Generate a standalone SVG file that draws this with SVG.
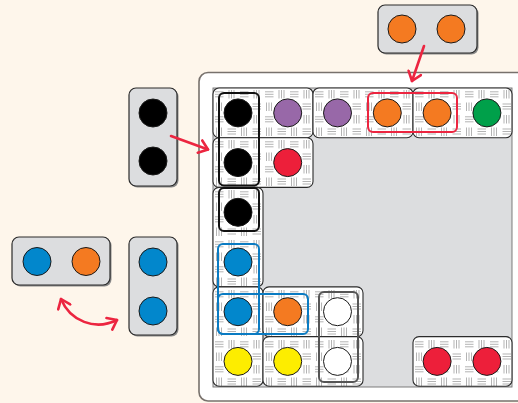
<svg xmlns="http://www.w3.org/2000/svg" width="518" height="403" viewBox="0 0 518 403">
<style>
.tile{fill:url(#hatch);stroke:#2b2b2b;stroke-width:1.1}
.ftile{fill:#dcdddf;stroke:#2b2b2b;stroke-width:1.2}
.shadow{fill:#8a8a8a}
.dot{stroke:#1a1a1a;stroke-width:1}
.k{fill:#000}.p{fill:#9868a8}.r{fill:#ed1f3a}.o{fill:#f47a21}.g{fill:#00a04a}.b{fill:#0287cc}.y{fill:#fded00}.w{fill:#fff}
.hl{fill:none;stroke-width:2}
.arrow{fill:none;stroke:#ec2540;stroke-width:2.6;stroke-linecap:round}
</style>
<defs>
<pattern id="hatch" patternUnits="userSpaceOnUse" x="213" y="88" width="25" height="25">
<rect width="25" height="25" fill="#fff"/>
<g stroke="#b4b4b4" stroke-width="1">
<path d="M2 3.8H10.5M2 6.3H10.5M2 8.8H10.5"/>
<path d="M16 2V10.5M18.5 2V10.5M21 2V10.5"/>
<path d="M3.5 14.5V23M6 14.5V23M8.5 14.5V23"/>
<path d="M14.5 16H23M14.5 18.5H23M14.5 21H23"/>
</g>
</pattern>
<marker id="head" viewBox="-10 -8 12 16" refX="0" refY="0" markerWidth="12" markerHeight="16" markerUnits="userSpaceOnUse" orient="auto-start-reverse">
<path d="M-8.5,-6.5 L0,0 L-8.5,6.5" fill="none" stroke="#ec2540" stroke-width="2.6" stroke-linecap="round" stroke-linejoin="round"/>
</marker>
</defs>
<rect width="518" height="403" fill="#fef6eb"/>
<g id="board">
<rect x="199" y="72.5" width="330" height="328.5" rx="9" fill="#fff" stroke="#77716c" stroke-width="1.6"/>
<rect x="213" y="88" width="299" height="299" fill="#dcdddf" stroke="#6f6f6f" stroke-width="0.9"/>
</g>
<g id="placed-tiles">
<g id="t1"><rect class="tile" x="213" y="88" width="100" height="49.7" rx="6"/><circle class="dot k" cx="238" cy="112.9" r="14"/><circle class="dot p" cx="287.7" cy="112.9" r="14"/></g>
<g id="t2"><rect class="tile" x="313" y="88" width="100" height="49.7" rx="6"/><circle class="dot p" cx="337.5" cy="112.9" r="14"/><circle class="dot o" cx="387.3" cy="112.9" r="14"/></g>
<g id="t3"><rect class="tile" x="413" y="88" width="99" height="49.7" rx="6"/><circle class="dot o" cx="437.1" cy="112.9" r="14"/><circle class="dot g" cx="486.9" cy="112.9" r="14"/></g>
<g id="t4"><rect class="tile" x="213" y="137.7" width="100" height="49.7" rx="6"/><circle class="dot k" cx="238" cy="162.6" r="14"/><circle class="dot r" cx="287.7" cy="162.6" r="14"/></g>
<g id="t5"><rect class="tile" x="213" y="187.4" width="50" height="99.5" rx="6"/><circle class="dot k" cx="238" cy="212.3" r="14"/><circle class="dot b" cx="238" cy="262" r="14"/></g>
<g id="t6"><rect class="tile" x="213" y="286.9" width="50" height="99.3" rx="6"/><circle class="dot b" cx="238" cy="311.7" r="14"/><circle class="dot y" cx="238" cy="361.4" r="14"/></g>
<g id="t7"><rect class="tile" x="263" y="286.9" width="100" height="49.7" rx="6"/><circle class="dot o" cx="287.7" cy="311.7" r="14"/><circle class="dot w" cx="337.5" cy="311.7" r="14"/></g>
<g id="t8"><rect class="tile" x="263" y="336.6" width="100" height="49.6" rx="6"/><circle class="dot y" cx="287.7" cy="361.4" r="14"/><circle class="dot w" cx="337.5" cy="361.4" r="14"/></g>
<g id="t9"><rect class="tile" x="413" y="336.6" width="99" height="49.6" rx="6"/><circle class="dot r" cx="437.1" cy="361.4" r="14"/><circle class="dot r" cx="486.9" cy="361.4" r="14"/></g>
</g>
<g id="highlights">
<rect class="hl" x="219" y="93" width="40" height="92.5" rx="5" stroke="#111"/>
<rect class="hl" x="219" y="188" width="40" height="43" rx="5" stroke="#111"/>
<rect class="hl" x="218" y="244" width="41" height="90" rx="5" stroke="#0a7bc2"/>
<rect class="hl" x="218" y="294" width="90" height="40" rx="5" stroke="#0a7bc2"/>
<rect class="hl" x="319" y="292" width="39" height="90" rx="5" stroke="#555"/>
<rect class="hl" x="368" y="93" width="89" height="39" rx="5" stroke="#ec2540"/>
</g>
<g id="float-top">
<rect class="shadow" x="379.5" y="6.5" width="99" height="48" rx="7"/>
<rect class="ftile" x="378" y="5" width="99" height="48" rx="7"/>
<circle class="dot o" cx="402" cy="29" r="14"/><circle class="dot o" cx="451" cy="29" r="14"/>
</g>
<g id="float-black">
<rect class="shadow" x="130.5" y="89.5" width="48" height="98" rx="7"/>
<rect class="ftile" x="129" y="88" width="48" height="98" rx="7"/>
<circle class="dot k" cx="153" cy="113" r="14"/><circle class="dot k" cx="153" cy="161" r="14"/>
</g>
<g id="float-blue-orange">
<rect class="shadow" x="13.5" y="238.5" width="98" height="48" rx="7"/>
<rect class="ftile" x="12" y="237" width="98" height="48" rx="7"/>
<circle class="dot b" cx="37" cy="261.5" r="14"/><circle class="dot o" cx="86" cy="261.5" r="14"/>
</g>
<g id="float-blue-blue">
<rect class="shadow" x="130.5" y="238.5" width="48" height="98" rx="7"/>
<rect class="ftile" x="129" y="237" width="48" height="98" rx="7"/>
<circle class="dot b" cx="153" cy="262" r="14"/><circle class="dot b" cx="153" cy="311" r="14"/>
</g>
<g id="connectors">
<path class="arrow" d="M424,46 L412,81" marker-end="url(#head)"/>
<path class="arrow" d="M171,136 L208,149.5" marker-end="url(#head)"/>
<path class="arrow" d="M61,299 C70,321 95,331 117,320" marker-start="url(#head)" marker-end="url(#head)"/>
</g>
</svg>
